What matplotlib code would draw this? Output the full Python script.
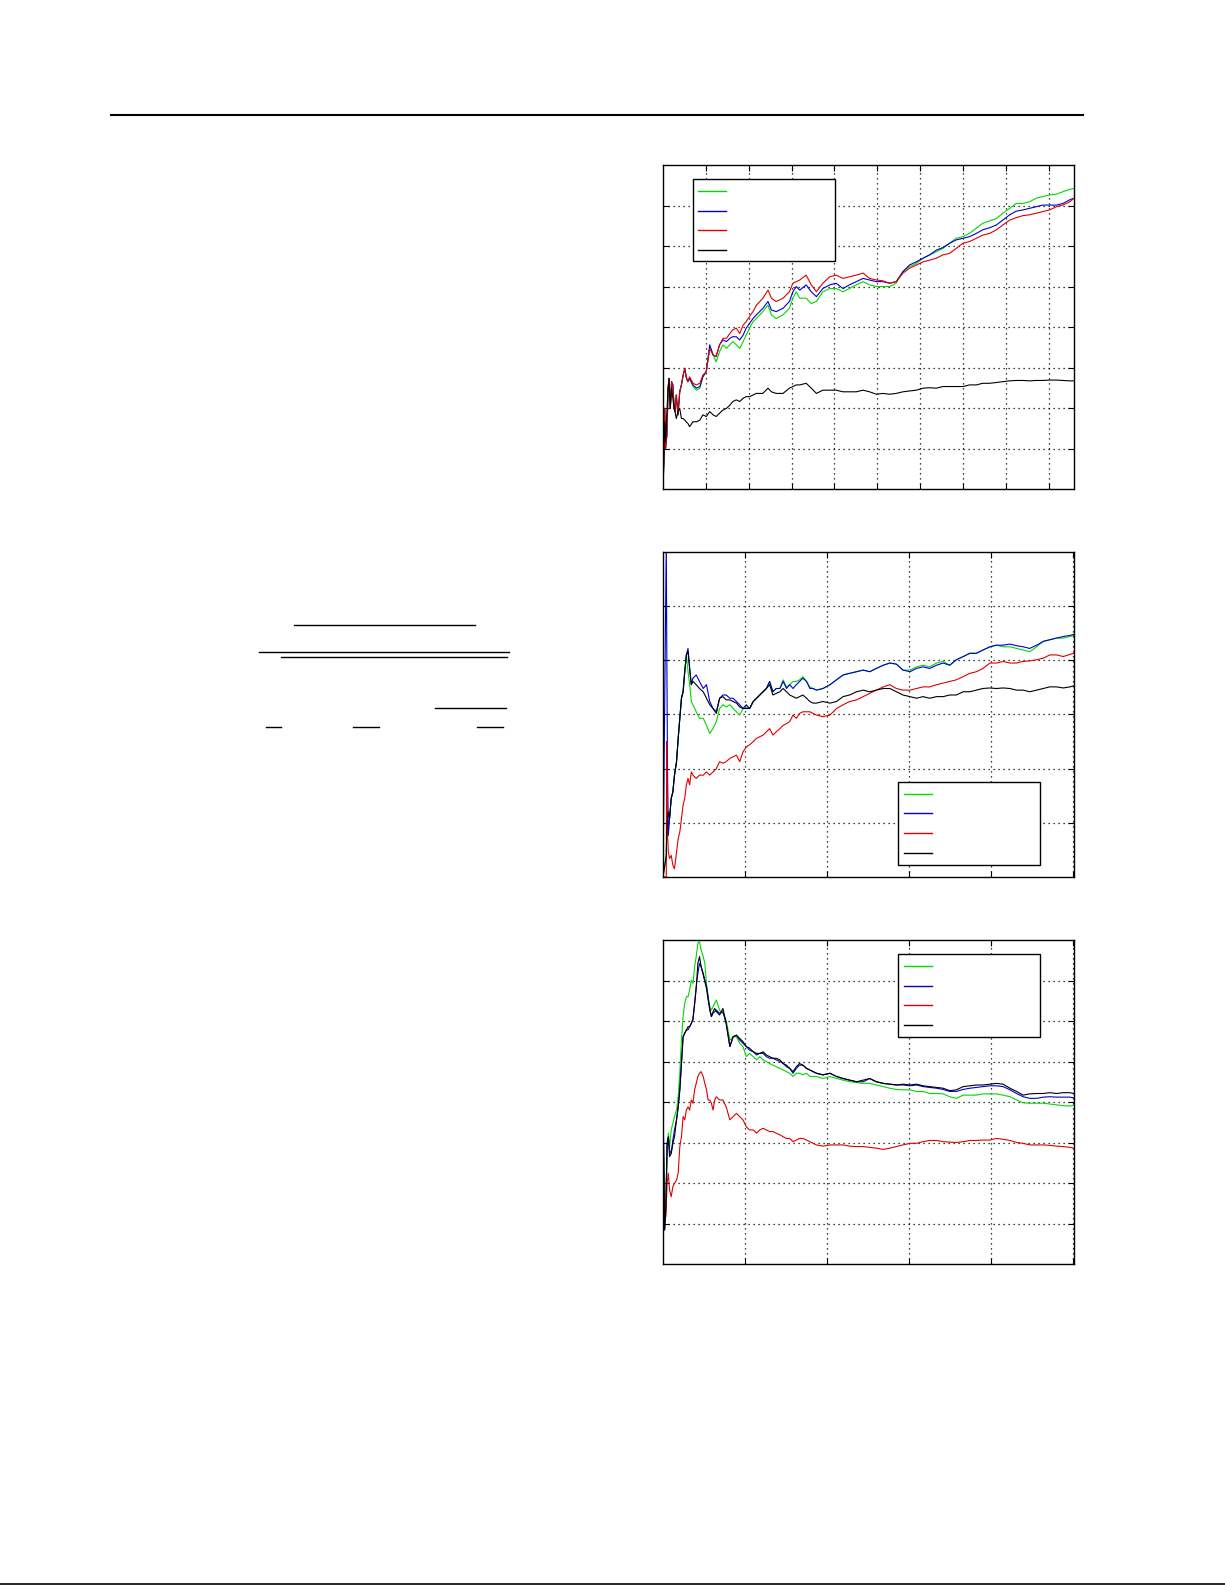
import matplotlib
matplotlib.use("Agg")
import matplotlib.pyplot as plt
from matplotlib.lines import Line2D
from matplotlib.patches import Rectangle

W, H = 1225, 1585

# ---- panel 1 (top) ----
x1 = [0, 2, 4, 6, 9, 12, 14, 17, 20, 23, 26, 28, 31, 35, 39, 43, 47, 51, 54, 58, 62,
      70, 78, 86, 93, 101, 109, 117, 124, 132, 140, 148, 156, 163, 171, 179, 187, 194, 202, 210, 218,
      233, 245, 253, 264, 280, 295, 303, 311, 319, 334, 346, 358,
      373, 389, 404, 420, 435, 451, 467, 482, 498, 513, 529, 544,
      560, 575, 591, 607, 622, 638, 653, 669, 684, 700, 715, 731, 746,
      762, 778, 793, 809, 824, 840, 855, 871, 886, 902, 918, 933, 949, 959]
green1 = [0.2, 6.7, 19.9, 10.0, 13.3, 24.9, 27.3, 19.9, 26.5, 25.7, 19.9, 19.1, 23.2, 18.3, 24.0, 25.7, 28.1, 29.8, 27.7, 26.5, 27.3,
          25.3, 24.4, 24.9, 27.7, 29.0, 34.7, 33.1, 31.4, 33.9, 35.6, 34.7, 35.6, 36.4, 35.6, 34.7, 36.4, 38.0, 39.7, 41.3, 42.1,
          43.8, 45.4, 43.0, 42.1, 43.0, 44.6, 47.1, 48.7, 47.1, 47.1, 45.8, 46.3,
          48.7, 49.5, 49.5, 48.7, 49.5, 50.4, 51.2, 50.4, 50.0, 50.0, 50.0, 50.8,
          53.7, 54.9, 55.7, 57.0, 57.8, 58.6, 59.4, 60.7, 61.9, 62.3, 63.1, 64.4, 65.6,
          66.2, 66.8, 68.1, 69.3, 70.5, 70.5, 70.9, 71.8, 72.2, 72.6, 72.8, 73.4, 74.0, 74.2]
blue1 = [0.2, 6.7, 19.9, 10.0, 13.3, 24.9, 27.3, 19.9, 26.5, 25.7, 19.9, 19.1, 23.2, 18.3, 24.0, 25.7, 28.1, 29.8, 27.7, 26.5, 27.3,
         25.7, 24.9, 25.3, 27.7, 29.0, 35.6, 33.1, 32.7, 35.6, 36.8, 36.4, 37.2, 37.6, 37.6, 36.8, 38.0, 39.7, 40.9, 42.1, 43.0,
         44.6, 46.3, 44.2, 43.8, 44.6, 46.3, 48.7, 50.0, 49.1, 50.4, 48.7, 47.5,
         49.5, 50.4, 50.8, 49.5, 50.4, 51.2, 52.0, 51.6, 51.2, 51.2, 50.8, 51.2,
         53.7, 55.3, 56.1, 57.0, 57.8, 59.0, 59.6, 60.7, 61.5, 61.9, 62.3, 63.1, 64.0,
         64.5, 65.2, 66.4, 67.7, 68.6, 68.9, 69.3, 69.7, 70.1, 70.1, 70.1, 70.5, 71.4, 71.8]
red1 = [0.2, 6.7, 19.9, 10.0, 13.3, 24.9, 27.3, 19.9, 26.5, 25.7, 19.9, 19.1, 23.2, 18.3, 24.0, 25.7, 28.1, 29.8, 27.7, 26.5, 27.7,
        26.1, 25.7, 26.1, 28.1, 29.0, 34.7, 33.1, 32.7, 35.6, 37.2, 37.2, 38.4, 39.3, 39.7, 38.4, 40.5, 41.3, 42.6, 43.8, 45.4,
        47.1, 49.1, 47.1, 46.3, 47.1, 48.7, 50.8, 51.2, 51.6, 52.8, 50.4, 48.7,
        50.8, 52.4, 52.8, 52.0, 52.4, 52.8, 53.3, 52.0, 51.6, 51.4, 50.8, 51.2,
        53.3, 54.5, 55.3, 56.1, 56.5, 57.0, 57.8, 58.2, 59.4, 60.7, 61.1, 61.9, 62.7,
        63.1, 64.0, 65.2, 66.4, 67.0, 67.5, 67.7, 68.1, 68.5, 68.9, 69.7, 70.1, 70.9, 71.8]
black1 = [0.2, 8.4, 16.6, 11.7, 19.0, 24.9, 27.3, 19.9, 24.9, 22.4, 19.9, 19.1, 17.4, 19.1, 19.9, 17.4, 17.4, 17.0, 16.6, 16.2, 15.4,
          16.6, 16.6, 17.0, 18.3, 17.9, 19.1, 18.3, 17.9, 18.7, 19.5, 19.9, 20.7, 21.6, 22.0, 21.6, 22.4, 22.8, 22.8, 23.2, 23.6,
          23.6, 24.9, 24.0, 23.6, 23.6, 24.9, 25.3, 25.7, 25.7, 26.1, 24.9, 23.6,
          24.4, 24.4, 24.4, 24.0, 24.0, 24.0, 24.4, 24.0, 23.4, 23.6, 23.4, 23.6,
          24.0, 24.2, 24.4, 24.9, 25.0, 24.9, 25.3, 25.3, 25.3, 25.3, 25.7, 25.7, 26.1,
          26.1, 26.3, 26.5, 26.7, 26.8, 26.8, 26.7, 26.8, 26.8, 26.9, 26.9, 26.8, 26.7, 26.7]

# ---- panel 2 (middle) ----
x2 = [0, 8, 9, 11, 13, 16, 20, 24, 28, 33, 37, 41, 45, 49, 53, 57, 61, 65, 69, 73,
      81, 89, 98, 106, 114, 122, 130,
      138, 146, 154, 163, 171, 179, 187, 195, 203, 211,
      220, 228, 236, 244, 252, 260, 268, 276, 285, 293,
      301, 309, 317, 325, 333, 341, 350, 358, 366, 374,
      390, 407, 423, 439, 455, 472, 488, 504, 520, 537, 553, 569,
      585, 602, 618, 634, 650, 667, 683, 699, 715, 732, 748, 764, 780,
      797, 813, 829, 846, 862, 878, 894, 911, 927, 943, 959, 976, 992, 1002]
green2 = [0.0, 4.0, 7.7, 10.8, 12.0, 10.8, 14.5, 15.7, 18.8, 21.3, 25.6, 29.3, 33.0, 34.2, 37.9, 41.0, 37.9, 35.5, 32.4, 31.8,
          30.5, 29.3, 29.3, 28.0, 26.5, 27.4, 28.7,
          31.1, 31.8, 31.4, 31.8, 31.1, 30.5, 29.9, 31.1, 31.4, 31.1,
          32.4, 33.0, 33.6, 34.2, 34.8, 36.1, 34.2, 34.8, 34.8, 36.4,
          35.1, 35.5, 36.1, 36.1, 36.4, 37.0, 36.1, 35.1, 34.8, 34.5,
          34.8, 35.5, 36.4, 37.3, 37.6, 37.9, 38.2, 37.9, 38.5, 39.1, 39.5, 39.3,
          38.2, 38.2, 38.8, 39.1, 38.8, 39.5, 39.8, 39.1, 40.1, 40.7, 41.3, 41.3, 41.9,
          42.5, 42.8, 42.5, 42.5, 42.2, 41.9, 41.6, 42.5, 43.5, 43.8, 44.1, 44.1, 44.4, 44.6]
blue2 = [0.0, 62.0, 45.0, 20.0, 7.7, 10.8, 14.5, 15.7, 18.8, 21.3, 25.6, 29.3, 33.0, 34.2, 37.9, 41.0, 42.2, 38.5, 35.5, 36.7,
         37.3, 36.1, 34.8, 35.5, 32.4, 31.1, 30.5,
         33.0, 33.6, 33.6, 33.0, 33.0, 32.4, 31.8, 31.1, 31.8, 31.1,
         32.4, 33.0, 33.6, 34.2, 34.8, 36.1, 34.2, 34.8, 34.8, 36.1,
         34.8, 35.5, 34.8, 35.5, 36.1, 36.7, 36.1, 34.8, 34.8, 34.5,
         34.8, 35.5, 36.4, 37.3, 37.6, 37.9, 38.2, 37.9, 38.5, 39.1, 39.5, 39.3,
         38.2, 37.9, 38.5, 38.8, 38.5, 39.1, 39.5, 39.1, 40.1, 40.7, 41.3, 41.3, 41.9,
         42.5, 42.8, 42.8, 43.0, 42.7, 42.5, 42.2, 42.8, 43.5, 43.8, 44.1, 44.4, 44.6, 44.8]
red2 = [0.0, 0.0, 25.0, 8.3, 4.6, 3.4, 4.0, 2.2, 1.5, 4.6, 7.1, 8.3, 10.8, 13.3, 14.5, 17.0, 18.2, 17.0, 19.4, 18.8,
        18.2, 18.8, 18.8, 19.4, 18.8, 19.4, 20.0,
        21.3, 21.0, 21.3, 21.9, 22.2, 22.5, 21.3, 23.1, 24.0, 24.4,
        25.0, 25.6, 25.9, 26.2, 26.8, 27.4, 26.2, 26.8, 27.4, 28.0,
        28.3, 28.7, 29.9, 29.3, 30.2, 30.5, 30.5, 30.5, 30.2, 29.9,
        29.6, 29.9, 31.1, 31.8, 32.4, 32.7, 33.3, 33.9, 34.5, 35.1, 35.5, 34.8,
        34.5, 34.5, 34.8, 35.1, 35.1, 35.5, 35.8, 36.1, 36.4, 37.0, 37.6, 37.9, 38.5,
        39.5, 39.5, 39.8, 39.5, 39.5, 39.8, 39.9, 40.1, 40.4, 41.0, 41.0, 40.7, 41.1, 41.3]
black2 = [0.0, 4.0, 7.7, 10.8, 12.0, 10.8, 14.5, 15.7, 18.8, 21.3, 25.6, 29.3, 33.0, 34.2, 37.9, 41.0, 41.6, 38.5, 35.5, 36.1,
          35.5, 34.8, 34.2, 33.0, 31.8, 31.1, 30.2,
          33.0, 33.3, 32.7, 32.7, 32.4, 32.1, 31.4, 31.1, 31.1, 31.1,
          32.4, 33.0, 33.6, 34.2, 34.8, 35.5, 33.6, 33.9, 34.2, 34.8,
          34.2, 33.6, 33.3, 33.0, 33.3, 33.6, 33.0, 32.4, 32.1, 32.1,
          32.4, 32.1, 32.4, 33.3, 33.6, 34.2, 34.5, 34.2, 34.5, 34.8, 34.8, 34.2,
          33.6, 33.3, 33.0, 33.3, 33.0, 33.3, 33.3, 33.6, 33.6, 34.2, 34.2, 34.5, 34.8,
          34.9, 34.8, 34.9, 34.8, 34.5, 34.5, 34.2, 34.5, 34.8, 35.1, 35.1, 34.9, 35.1, 35.3]

# ---- panel 3 (bottom) ----
x3 = [0, 2, 4, 7, 10, 13, 16, 20, 24, 28,
      33, 37, 41, 45, 49, 53, 57, 61, 65, 69,
      73, 77, 81, 85, 89, 93, 98, 102, 106, 110,
      114, 118, 122, 126, 130,
      138, 146, 154, 163, 171, 179, 187, 195, 203, 211,
      220, 228, 236, 244, 252, 260, 268, 276, 285, 293,
      301, 309, 317, 325, 333, 341, 350, 358, 366, 374,
      390, 407, 423, 439, 455, 472, 488, 504, 520, 537, 553, 569,
      585, 602, 618, 634, 650, 667, 683, 699, 715, 732, 748, 764, 780,
      797, 813, 829, 846, 862, 878, 894, 911, 927, 943, 959, 976, 992, 1002]
green3 = [39.7, 19.9, 10.0, 17.0, 25.7, 32.3, 29.0, 33.1, 34.7, 36.4,
          38.0, 41.3, 47.1, 55.3, 61.1, 64.4, 66.0, 66.0, 67.7, 70.1,
          69.3, 73.4, 75.9, 79.2, 79.6, 77.5, 75.9, 74.2, 69.3, 66.0,
          63.5, 62.7, 63.5, 64.4, 65.2,
          62.7, 61.9, 60.2, 55.3, 56.1, 56.1, 54.5, 53.7, 51.2, 52.0,
          51.2, 50.4, 51.2, 50.4, 50.0, 49.5, 49.1, 48.7, 48.3, 47.9,
          47.5, 47.1, 46.3, 47.1, 47.1, 46.7, 47.1, 46.3, 46.3, 46.3,
          45.8, 46.3, 45.8, 45.4, 45.0, 44.8, 44.6, 44.6, 44.2, 43.8, 43.4, 43.1,
          43.0, 43.0, 42.6, 42.6, 42.1, 42.1, 42.0, 41.3, 40.9, 41.7, 41.7, 41.7, 42.0,
          42.0, 42.0, 41.7, 41.3, 40.5, 39.8, 39.7, 39.7, 39.7, 39.5, 39.3, 39.1, 39.0, 39.2]
blue3 = [39.7, 24.9, 8.4, 14.0, 29.8, 31.4, 28.1, 27.3, 30.6, 33.1,
         35.6, 38.8, 43.0, 49.5, 56.1, 57.0, 57.8, 57.8, 58.6, 59.4,
         60.2, 64.4, 68.5, 71.8, 74.2, 73.4, 71.8, 70.1, 68.5, 66.0,
         62.7, 61.1, 61.9, 62.3, 62.7,
         61.9, 62.3, 59.4, 53.7, 56.1, 56.5, 55.3, 54.5, 53.7, 52.8,
         52.4, 51.6, 52.0, 52.0, 51.2, 50.8, 50.8, 50.4, 50.0, 49.5,
         48.7, 48.3, 47.1, 48.3, 49.1, 49.1, 48.3, 47.9, 47.5, 47.1,
         46.7, 47.1, 46.3, 45.8, 45.4, 45.0, 45.0, 45.8, 45.0, 44.6, 44.4, 44.2,
         44.2, 44.0, 44.2, 43.8, 43.6, 43.4, 43.1, 42.6, 42.6, 43.1, 43.4, 43.6, 43.8,
         44.0, 44.0, 43.8, 43.0, 42.1, 41.3, 40.9, 40.9, 41.2, 41.3, 41.2, 41.2, 41.2, 41.0]
red3 = [39.7, 19.2, 15.0, 11.7, 19.9, 22.4, 18.3, 16.6, 19.1, 19.9,
        20.7, 22.4, 29.0, 31.4, 36.4, 35.6, 38.0, 38.8, 38.0, 40.5,
        39.7, 43.0, 44.6, 46.3, 47.1, 47.5, 46.3, 44.6, 43.0, 40.5,
        40.5, 39.7, 38.0, 40.5, 41.3,
        40.5, 40.5, 38.8, 35.6, 36.4, 37.2, 36.4, 35.6, 33.9, 33.1,
        33.1, 32.3, 33.1, 33.5, 33.1, 32.7, 32.7, 32.3, 31.9, 31.4,
        31.0, 31.0, 30.2, 30.6, 31.0, 31.0, 30.6, 30.2, 29.8, 29.4,
        29.1, 29.4, 29.4, 29.4, 29.1, 29.0, 29.0, 28.8, 28.6, 28.3, 28.6, 29.0,
        29.4, 29.8, 29.8, 30.2, 30.5, 30.5, 30.2, 30.1, 30.0, 30.2, 30.5, 30.5, 30.6,
        30.6, 31.0, 30.8, 30.5, 30.0, 29.8, 29.4, 29.4, 29.4, 29.3, 29.1, 29.0, 28.8, 28.6]
black3 = [39.7, 24.9, 8.4, 14.0, 29.8, 31.4, 26.5, 27.3, 29.8, 31.4,
          35.6, 38.8, 43.0, 49.5, 56.1, 57.0, 57.8, 58.6, 58.6, 59.4,
          60.6, 64.0, 68.1, 74.2, 75.9, 73.4, 71.4, 69.7, 68.1, 65.2,
          63.1, 61.1, 62.3, 63.1, 62.3,
          61.5, 63.1, 59.4, 53.7, 56.1, 56.5, 55.7, 54.9, 53.7, 53.3,
          52.4, 52.0, 52.0, 52.4, 51.6, 51.2, 50.8, 50.8, 50.4, 49.5,
          49.1, 48.3, 47.5, 48.7, 49.5, 49.1, 48.3, 47.9, 47.5, 47.1,
          46.7, 47.1, 46.3, 45.8, 45.4, 45.0, 45.4, 45.8, 45.0, 44.6, 44.4, 44.2,
          44.4, 44.2, 44.4, 44.0, 43.8, 43.6, 43.4, 42.8, 43.0, 43.8, 44.0, 44.2, 44.2,
          44.4, 44.6, 44.4, 43.4, 42.6, 41.7, 42.0, 42.1, 42.1, 42.3, 42.1, 42.3, 42.3, 42.1]

colors = ['#00d800', '#0000d0', '#e00000', 'black']


def setup(ax, xmax, xstep, ymax, ystep):
    ax.set_xlim(0, xmax)
    ax.set_ylim(0, ymax)
    ax.set_xticks(range(xstep, int(xmax) + 1, xstep))
    ax.set_yticks(range(ystep, ymax, ystep))
    ax.tick_params(direction='in', length=4, width=0.8, top=True, right=True,
                   labelbottom=False, labelleft=False)
    ax.grid(True, color='black', linestyle=(0, (1, 3)), linewidth=0.9)
    for s in ax.spines.values():
        s.set_linewidth(1.0)


def legend_box(ax, x0, x1, y0, y1, lx0, lx1, ys):
    ax.add_patch(Rectangle((x0, y0), x1 - x0, y1 - y0, transform=ax.transAxes,
                           facecolor='white', edgecolor='black', lw=1.0, zorder=5))
    for c, yy in zip(colors, ys):
        ax.add_line(Line2D([lx0, lx1], [yy, yy], transform=ax.transAxes,
                           color=c, lw=1.0, zorder=6))


fig = plt.figure(figsize=(W / 100, H / 100), dpi=100)

ax1 = fig.add_axes([663 / W, 1 - 489 / H, 411 / W, 324 / H])
ax2 = fig.add_axes([663 / W, 1 - 877 / H, 411 / W, 325 / H])
ax3 = fig.add_axes([663 / W, 1 - 1264 / H, 411 / W, 324 / H])

for ax, x, series in [(ax1, x1, [green1, blue1, red1, black1]),
                      (ax2, x2, [green2, blue2, red2, black2]),
                      (ax3, x3, [green3, blue3, red3, black3])]:
    for c, y in zip(colors, series):
        ax.plot(x, y, color=c, lw=0.8)

setup(ax1, 959, 100, 80, 10)
setup(ax2, 1002, 200, 60, 10)
setup(ax3, 1002, 200, 80, 10)

legend_box(ax1, 0.074, 0.419, 0.703, 0.956, 0.086, 0.153, [0.921, 0.859, 0.798, 0.737])
legend_box(ax2, 0.5725, 0.918, 0.037, 0.291, 0.586, 0.654, [0.255, 0.197, 0.135, 0.074])
legend_box(ax3, 0.5725, 0.918, 0.700, 0.956, 0.586, 0.654, [0.919, 0.857, 0.798, 0.737])


# page decorations: header rule, fraction bars, page edge
def rule(xa, xb, y, lw):
    fig.add_artist(Line2D([xa / W, xb / W], [1 - y / H, 1 - y / H],
                          transform=fig.transFigure, color='black', lw=lw))


rule(111, 1083, 115, 1.5)
rule(294, 475, 625, 1.0)
rule(259, 509, 652, 1.0)
rule(281, 507, 657, 1.0)
rule(435, 506, 708, 1.0)
rule(266, 281, 727, 1.0)
rule(353, 379, 727, 1.0)
rule(477, 503, 727, 1.0)
rule(0, 1225, 1584, 1.2)

fig.savefig('out.png', dpi=100)
